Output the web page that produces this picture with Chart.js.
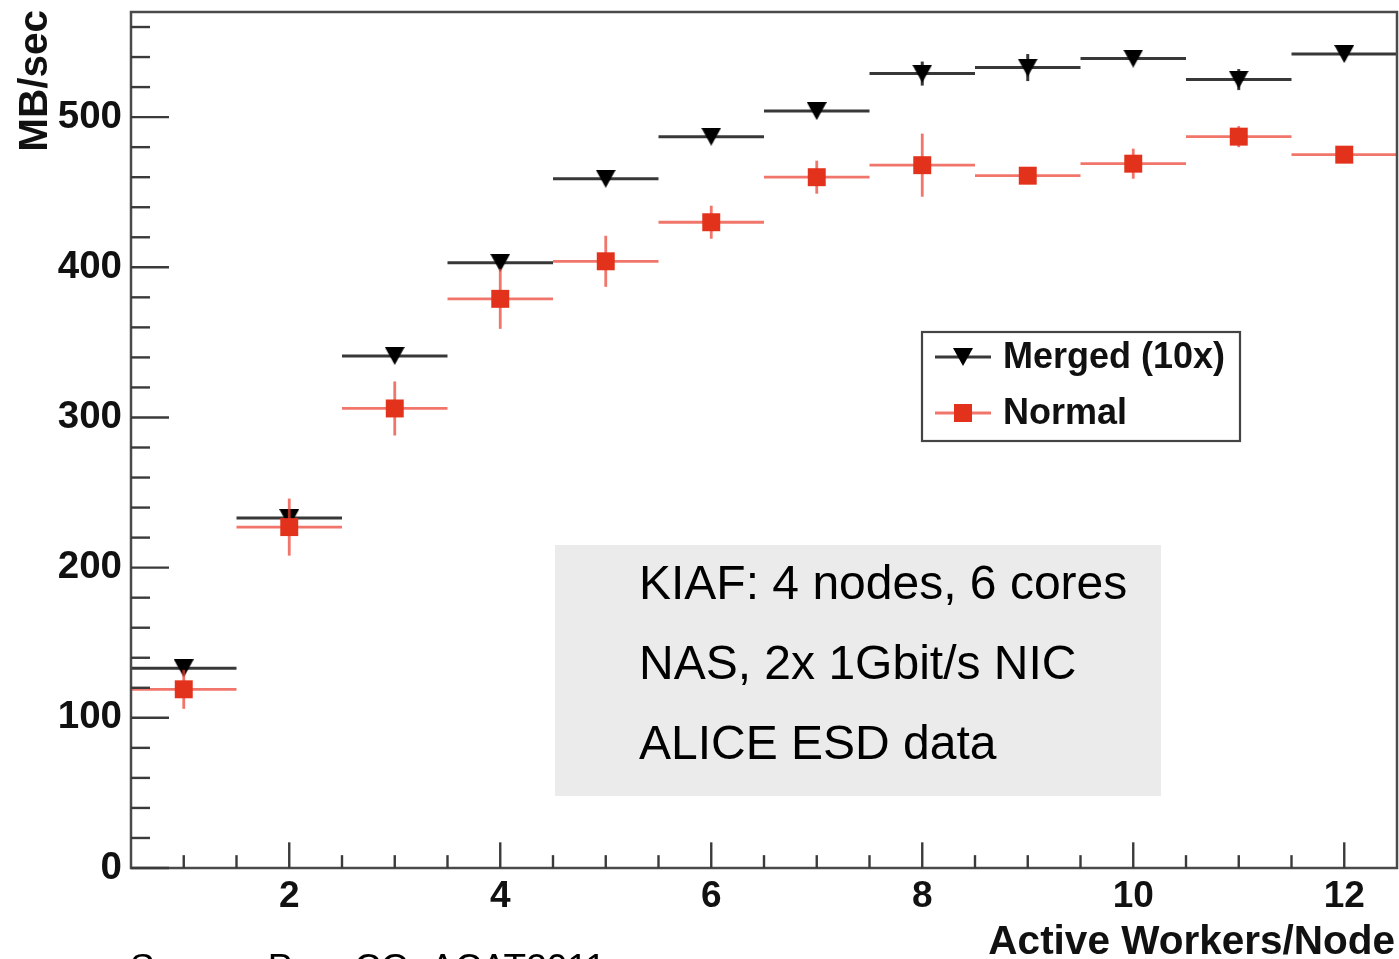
<!DOCTYPE html>
<html><head><meta charset="utf-8">
<script src="https://cdn.jsdelivr.net/npm/chart.js@4.4.1/dist/chart.umd.min.js"></script>
<style>html,body{margin:0;padding:0;background:#fff;overflow:hidden}#wrap{width:1399px;height:959px;position:relative}</style>
</head><body><div id="wrap"><canvas id="c" width="1399" height="959"></canvas></div>
<script>
// ---- data ----
const workers    = [1,2,3,4,5,6,7,8,9,10,11,12];
const mergedRate = [133,233,341,403,459,487,504,529,533,539,525,542];
const mergedErr  = [3,3,3,3,3,3,3,8,9,3,7,3];
const normalRate = [119,227,306,379,404,430,460,468,461,469,487,475];
const normalErr  = [13,19,18,20,17,11,11,21,4,10,7,4];
const binHalfWidth = 0.5;
const xTickValues = [2,4,6,8,10,12];
const yTickValues = [0,100,200,300,400,500];
const xMinorStep = 0.5;
const yMinorStep = 20;
const seriesLabels = ["Merged (10x)","Normal"];
const xTitle = "Active Workers/Node";
const yTitle = "MB/sec";
const infoLines = ["KIAF: 4 nodes, 6 cores","NAS, 2x 1Gbit/s NIC","ALICE ESD data"];
const sourceNote = "Source: Proc CG, ACAT2011";

const FONT = "'Liberation Sans', Arial, Helvetica, sans-serif";

// down-triangle marker image
function makeTriangle(w,h,color){
  const c=document.createElement('canvas'); c.width=w; c.height=h;
  const g=c.getContext('2d'); g.fillStyle=color;
  g.beginPath(); g.moveTo(0,0); g.lineTo(w,0); g.lineTo(w/2,h); g.closePath(); g.fill();
  return c;
}
const triImg = makeTriangle(20,18,'#000');

function noPad(s){ s.paddingTop=0; s.paddingBottom=0; s.paddingLeft=0; s.paddingRight=0; }

const rootPlugin = {
  id:'rootStyle',
  beforeDatasetDraw(chart,args){
    const ds = chart.data.datasets[args.index];
    const xs = chart.scales.x, ys = chart.scales.y, a = chart.chartArea;
    const g = chart.ctx;
    g.save();
    g.beginPath(); g.rect(a.left,a.top,a.right-a.left,a.bottom-a.top); g.clip();
    g.strokeStyle = ds.lineColor; g.lineWidth = ds.lineWidth; g.lineCap='butt';
    ds.data.forEach((p,i)=>{
      const y = ys.getPixelForValue(p.y);
      g.beginPath();
      g.moveTo(xs.getPixelForValue(p.x-binHalfWidth), y);
      g.lineTo(xs.getPixelForValue(p.x+binHalfWidth), y);
      g.stroke();
      const e = ds.err[i];
      g.beginPath();
      const x = xs.getPixelForValue(p.x);
      g.moveTo(x, ys.getPixelForValue(p.y+e));
      g.lineTo(x, ys.getPixelForValue(p.y-e));
      g.stroke();
    });
    g.restore();
  },
  afterDraw(chart){
    const g = chart.ctx, a = chart.chartArea, xs = chart.scales.x, ys = chart.scales.y;
    g.save();
    // frame
    g.strokeStyle = '#4a4a4a'; g.lineWidth = 2.5;
    g.strokeRect(a.left, a.top, a.right-a.left, a.bottom-a.top);
    // ticks (inside)
    g.strokeStyle = '#3a3a3a'; g.lineWidth = 2.4;
    const yMajorLen = 0.03*(a.right-a.left), xMajorLen = 0.03*(a.bottom-a.top);
    for(let v=ys.min; v<=ys.max+1e-6; v+=yMinorStep){
      const major = yTickValues.includes(Math.round(v));
      const y = ys.getPixelForValue(v);
      g.beginPath(); g.moveTo(a.left, y); g.lineTo(a.left+(major?yMajorLen:yMajorLen/2), y); g.stroke();
    }
    for(let v=xs.min+xMinorStep; v<xs.max-1e-6; v+=xMinorStep){
      const major = xTickValues.includes(v);
      const x = xs.getPixelForValue(v);
      g.beginPath(); g.moveTo(x, a.bottom); g.lineTo(x, a.bottom-(major?xMajorLen:xMajorLen/2)); g.stroke();
    }
    // axis titles
    g.fillStyle = '#111';
    g.font = 'bold 40.5px '+FONT;
    g.textAlign='right'; g.textBaseline='alphabetic';
    g.fillText(xTitle, 1395, 954);
    g.save();
    g.translate(47, 10); g.rotate(-Math.PI/2);
    g.textAlign='right'; g.fillText(yTitle, 0, 0);
    g.restore();
    // legend
    const lx=922, ly=332, lw=318, lh=109;
    g.fillStyle='#fff'; g.fillRect(lx,ly,lw,lh);
    g.strokeStyle='#444'; g.lineWidth=2.2; g.strokeRect(lx,ly,lw,lh);
    const dsets = chart.data.datasets;
    const rows = [357, 413];
    dsets.forEach((ds,i)=>{
      const yy = rows[i];
      g.strokeStyle = ds.lineColor; g.lineWidth = ds.lineWidth;
      g.beginPath(); g.moveTo(935,yy); g.lineTo(991,yy); g.stroke();
      if(ds.pointStyle instanceof HTMLCanvasElement){
        g.drawImage(ds.pointStyle, 963-ds.pointStyle.width/2, yy-ds.pointStyle.height/2);
      } else {
        g.fillStyle = ds.pointBackgroundColor; g.fillRect(963-9, yy-9, 18, 18);
      }
      g.fillStyle='#111'; g.font='bold 36px '+FONT; g.textAlign='left'; g.textBaseline='middle';
      g.fillText(ds.label, 1003, yy+1);
    });
    // info box
    g.fillStyle='#ebebeb'; g.fillRect(555,545,606,251);
    g.fillStyle='#000'; g.font='48px '+FONT; g.textAlign='left'; g.textBaseline='alphabetic';
    infoLines.forEach((t,i)=> g.fillText(t, 639, 599+i*80));
    // source note (cut at the bottom edge)
    g.font='37px '+FONT; g.fillStyle='#000';
    g.fillText(sourceNote, 130, 980);
    g.restore();
  }
};

new Chart(document.getElementById('c').getContext('2d'), {
  type:'scatter',
  data:{datasets:[
    {label:seriesLabels[0], data: workers.map((x,i)=>({x:x, y:mergedRate[i]})), err: mergedErr,
     pointStyle: triImg, pointRadius:10, pointBackgroundColor:'#000', pointBorderColor:'#000', pointBorderWidth:0,
     lineColor:'#383838', lineWidth:3, order:2},
    {label:seriesLabels[1], data: workers.map((x,i)=>({x:x, y:normalRate[i]})), err: normalErr,
     pointStyle:'rect', pointRadius:12.7, pointBackgroundColor:'#e3321c', pointBorderColor:'#e3321c', pointBorderWidth:0,
     lineColor:'rgba(236,64,48,0.72)', lineWidth:2.8, order:1}
  ]},
  options:{
    responsive:false, animation:false, devicePixelRatio:1,
    layout:{autoPadding:false, padding:{top:12,right:2,left:0,bottom:0}},
    plugins:{legend:{display:false}, tooltip:{enabled:false}},
    scales:{
      x:{type:'linear', min:0.5, max:12.5,
         grid:{display:false, drawTicks:false}, border:{display:false},
         ticks:{font:{family:FONT, size:37, weight:'bold'}, color:'#111', padding:7, maxRotation:0, autoSkip:false},
         afterBuildTicks:s=>{ s.ticks = xTickValues.map(v=>({value:v})); },
         afterFit:s=>{ s.height = 91; noPad(s); }},
      y:{type:'linear', min:0, max:570,
         grid:{display:false, drawTicks:false}, border:{display:false},
         ticks:{font:{family:FONT, size:38.5, weight:'bold'}, color:'#111', padding:9, autoSkip:false},
         afterBuildTicks:s=>{ s.ticks = yTickValues.map(v=>({value:v})); },
         afterFit:s=>{ s.width = 131; noPad(s); }}
    }
  },
  plugins:[rootPlugin]
});
</script></body></html>
